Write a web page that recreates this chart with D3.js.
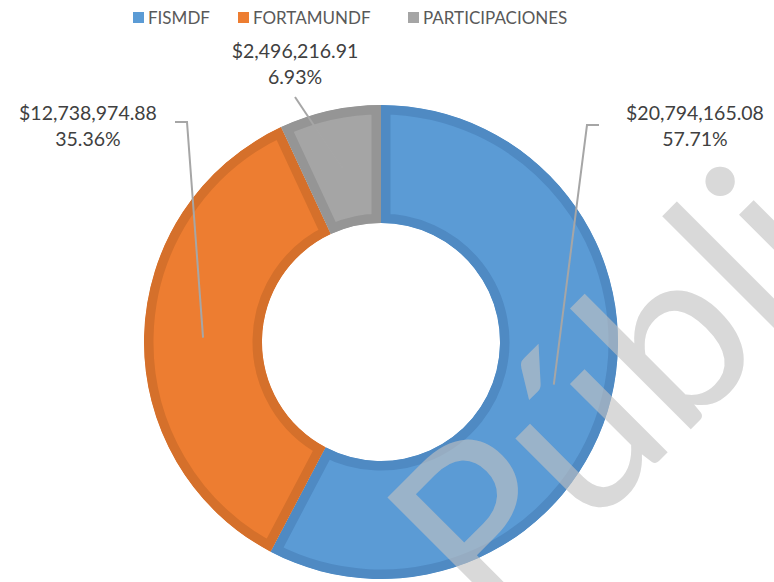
<!DOCTYPE html>
<html>
<head>
<meta charset="utf-8">
<script src="https://cdn.jsdelivr.net/npm/d3@7"></script>
<style>
  body { margin: 0; background: #fff; }
  text { font-family: Lato, "Open Sans", sans-serif; }
</style>
</head>
<body>
<svg id="chart" width="774" height="582"></svg>
<script>
// data
var categories = ['FISMDF', 'FORTAMUNDF', 'PARTICIPACIONES']
var amounts = [20794165.08, 12738974.88, 2496216.91]

var fills = ['#5B9BD5', '#ED7D31', '#A5A5A5']
var borders = ['#4F8AC3', '#D5702B', '#959595']

var cx = 381
var cy = 342
var outerR = 237
var innerR = 119

// where each label sits (text centre, leader elbow)
var labelPos = [
  { x: 695, y: 120, elbow: [599, 125], knee: [587, 125] },
  { x: 88, y: 120, elbow: [175, 122], knee: [187, 122] },
  { x: 295, y: 58, elbow: null, knee: [295, 97] }
]

var svg = d3.select('#chart')
var total = d3.sum(amounts)
var fmtMoney = d3.format('$,.2f')
var fmtPct = d3.format('.2%')

var pie = d3.pie().sort(null).value(function(d) { return d })
var arcs = pie(amounts)

var arc = d3.arc().innerRadius(innerR).outerRadius(outerR)
var midArc = d3.arc().innerRadius((innerR + outerR) / 2).outerRadius((innerR + outerR) / 2)

var g = svg.append('g').attr('transform', 'translate(' + cx + ',' + cy + ')')

var defs = svg.append('defs')
arcs.forEach(function(d, i) {
  defs.append('clipPath')
    .attr('id', 'clip-' + i)
    .append('path')
    .attr('d', arc(d))
})

g.selectAll('.slice')
  .data(arcs)
  .enter()
  .append('path')
  .attr('class', 'slice')
  .attr('d', arc)
  .attr('fill', function(d, i) { return fills[i] })
  .attr('stroke', function(d, i) { return borders[i] })
  .attr('stroke-width', 19)
  .attr('clip-path', function(d, i) { return 'url(#clip-' + i + ')' })

// watermark
svg.append('text')
  .text('Pública')
  .attr('transform', 'translate(490,630) rotate(-45)')
  .attr('font-size', 232)
  .attr('fill', '#C2C2C2')
  .attr('opacity', 0.62)

// leader lines
arcs.forEach(function(d, i) {
  var c = midArc.centroid(d)
  var p = labelPos[i]
  var pts = [[cx + c[0], cy + c[1]], p.knee]
  if (p.elbow) pts.push(p.elbow)
  svg.append('path')
    .attr('d', d3.line()(pts))
    .attr('fill', 'none')
    .attr('stroke', '#A6A6A6')
    .attr('stroke-width', 2)
})

// labels
arcs.forEach(function(d, i) {
  var p = labelPos[i]
  var t = svg.append('text')
    .attr('x', p.x)
    .attr('y', p.y)
    .attr('text-anchor', 'middle')
    .attr('font-size', 19.5)
    .attr('fill', '#404040')
  t.append('tspan').attr('x', p.x).text(fmtMoney(amounts[i]))
  t.append('tspan').attr('x', p.x).attr('dy', 26).text(fmtPct(amounts[i] / total))
})

// legend
var legendX = [133, 238, 408]
var legend = svg.selectAll('.legend')
  .data(categories)
  .enter()
  .append('g')
  .attr('class', 'legend')
  .attr('transform', function(d, i) { return 'translate(' + legendX[i] + ',12)' })

legend.append('rect')
  .attr('width', 11)
  .attr('height', 11)
  .attr('fill', function(d, i) { return fills[i] })

legend.append('text')
  .attr('x', 15)
  .attr('y', 12)
  .attr('font-size', 17)
  .attr('fill', '#595959')
  .text(function(d) { return d })
</script>
</body>
</html>
